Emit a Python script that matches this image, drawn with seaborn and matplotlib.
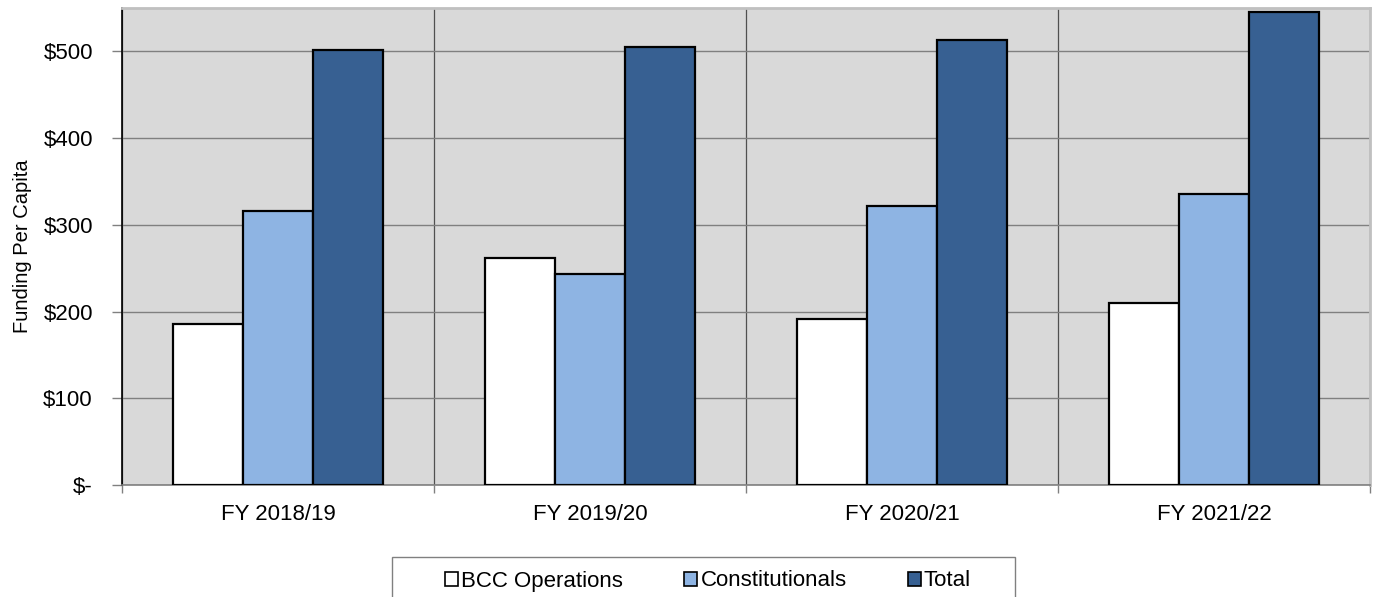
import matplotlib
matplotlib.use("Agg")
import matplotlib.pyplot as plt
import seaborn as sns
import pandas as pd
from matplotlib.ticker import FixedLocator, FuncFormatter
from matplotlib.patches import Patch, Rectangle

categories = ["FY 2018/19", "FY 2019/20", "FY 2020/21", "FY 2021/22"]
series_names = ["BCC Operations", "Constitutionals", "Total"]
bcc_operations = [186, 262, 191, 210]
constitutionals = [316, 243, 322, 335]
total = [502, 505, 513, 545]
colors = ["#FFFFFF", "#8EB4E3", "#376092"]

rows = []
for name, vals in zip(series_names, [bcc_operations, constitutionals, total]):
    for c, v in zip(categories, vals):
        rows.append({"Year": c, "Series": name, "Value": v})
df = pd.DataFrame(rows)

sns.set_theme(style="white")
plt.rcParams["font.family"] = ["Liberation Sans", "DejaVu Sans"]

W, H = 1377, 597
fig = plt.figure(figsize=(W/100, H/100), dpi=100)
ax = fig.add_axes([122/W, 1-485/H, (1370-122)/W, (485-8)/H])
ax.set_facecolor("#D9D9D9")

sns.barplot(data=df, x="Year", y="Value", hue="Series", order=categories,
            hue_order=series_names, palette=colors, saturation=1, width=0.67,
            edgecolor="black", linewidth=1.6, ax=ax, legend=False, zorder=3)

ax.set_ylim(0, 550)
ax.set_xlim(-0.5, 3.5)
ax.yaxis.set_major_locator(FixedLocator([0, 100, 200, 300, 400, 500]))
ax.yaxis.set_major_formatter(FuncFormatter(lambda v, p: "$-" if v == 0 else f"${int(v)}"))
ax.grid(axis="y", color="#808080", linewidth=1.0, zorder=1)
ax.set_axisbelow(True)

ax.xaxis.set_minor_locator(FixedLocator([-0.5, 0.5, 1.5, 2.5, 3.5]))
ax.grid(axis="x", which="minor", color="#505050", linewidth=0.9)
ax.tick_params(axis="x", which="minor", length=6, width=1, color="#808080", direction="out", bottom=True)
ax.tick_params(axis="x", which="major", length=0, labelsize=16, pad=14, colors="black")
ax.tick_params(axis="y", length=7, width=1, color="#808080", direction="out", left=True,
               labelsize=16, pad=14, labelcolor="black")

ax.set_xlabel("")
ax.set_ylabel("Funding Per Capita", fontsize=14.5, labelpad=8, color="black")

for s in ["top", "right"]:
    ax.spines[s].set_color("#C0C0C0")
    ax.spines[s].set_linewidth(2)
ax.spines["left"].set_color("black")
ax.spines["left"].set_linewidth(1.2)
ax.spines["bottom"].set_color("#808080")
ax.spines["bottom"].set_linewidth(1.2)

# legend frame (extends beyond the bottom edge as in the reference)
fig.patches.append(Rectangle((392/W, -0.05), (1015-392)/W, 0.05 + (597-557)/H,
                             transform=fig.transFigure, facecolor="white",
                             edgecolor="#808080", linewidth=1, zorder=0))

handles = [Patch(facecolor=c, edgecolor="black", linewidth=1.2) for c in colors]
leg = fig.legend(handles, series_names, loc="center left",
                 bbox_to_anchor=(445/W, 1-581/H),
                 ncol=3, fontsize=16, frameon=False,
                 handlelength=0.59, handleheight=0.59, handletextpad=0.14,
                 borderpad=0, columnspacing=2.75, borderaxespad=0)
for t in leg.get_texts():
    t.set_color("black")

fig.savefig("out.png", dpi=100)
